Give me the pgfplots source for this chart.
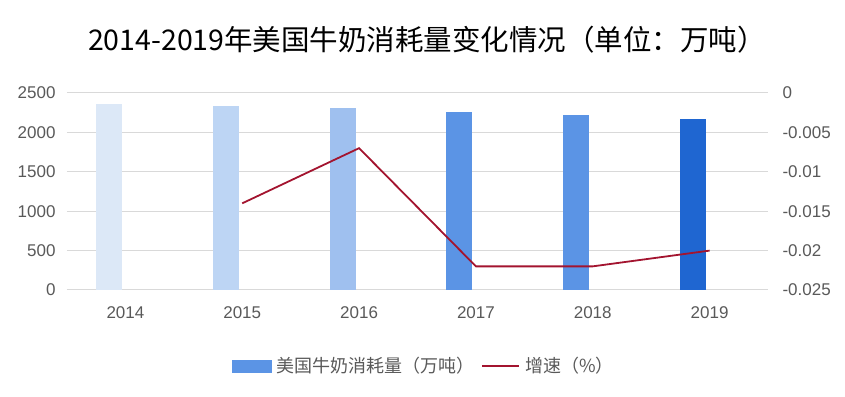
\documentclass[border=0pt]{standalone}
\usepackage{pgfplots}
\pgfplotsset{compat=1.18}
\usepackage{fontspec}
\setmainfont{Liberation Sans}
\newfontfamily\cjk{Noto Sans CJK SC}
\definecolor{c1}{HTML}{DCE8F7}
\definecolor{c2}{HTML}{BDD5F4}
\definecolor{c3}{HTML}{9FC0EF}
\definecolor{c4}{HTML}{5B94E5}
\definecolor{c5}{HTML}{5B94E5}
\definecolor{c6}{HTML}{1F66D1}
\definecolor{linered}{HTML}{A3142F}
\definecolor{gridgray}{HTML}{D9D9D9}
\definecolor{txtgray}{HTML}{595959}
\begin{document}
\begin{tikzpicture}[x=1pt,y=1pt]
\useasboundingbox (0,0) rectangle (845,396);
\node[font=\cjk\fontsize{28.5}{32}\selectfont] at (427,356) {2014-2019年美国牛奶消耗量变化情况（单位：万吨）};
\begin{axis}[at={(67pt,106pt)}, anchor=south west, width=701pt, height=197pt, scale only axis,
  xmin=-0.5, xmax=5.5, ymin=0, ymax=2500, ytick={0,500,...,2500},
  xtick={0,...,5}, xticklabels={2014,2015,2016,2017,2018,2019},
  axis line style={draw=none}, major tick style={draw=none},
  ymajorgrids, grid style={color=gridgray, line width=1pt},
  ticklabel style={font=\fontsize{17}{19}\selectfont, text=txtgray},
  /pgf/number format/assume math mode=true,
  /pgf/number format/1000 sep={},
  yticklabel style={xshift=-8pt},
  xticklabel style={yshift=-13pt},
  clip=false]
\addplot[ybar, bar width=26pt, bar shift=-16.5pt, fill=c1, draw=none] coordinates {(0,2360)};
\addplot[ybar, bar width=26pt, bar shift=-16.5pt, fill=c2, draw=none] coordinates {(1,2331)};
\addplot[ybar, bar width=26pt, bar shift=-16.5pt, fill=c3, draw=none] coordinates {(2,2314)};
\addplot[ybar, bar width=26pt, bar shift=-16.5pt, fill=c4, draw=none] coordinates {(3,2263)};
\addplot[ybar, bar width=26pt, bar shift=-16.5pt, fill=c5, draw=none] coordinates {(4,2217)};
\addplot[ybar, bar width=26pt, bar shift=-16.5pt, fill=c6, draw=none] coordinates {(5,2170)};
\end{axis}
\begin{axis}[at={(67pt,106pt)}, anchor=south west, width=701pt, height=197pt, scale only axis,
  xmin=-0.5, xmax=5.5, ymin=-0.025, ymax=0,
  axis y line*=right, axis x line=none,
  scaled y ticks=false,
  ytick={-0.025,-0.02,-0.015,-0.01,-0.005,0},
  yticklabels={-0.025,-0.02,-0.015,-0.01,-0.005,0},
  axis line style={draw=none}, major tick style={draw=none},
  ticklabel style={font=\fontsize{17}{19}\selectfont, text=txtgray},
  yticklabel style={xshift=11pt},
  clip=false,
  legend style={at={(0.511,-0.386)}, anchor=center, draw=none, fill=none,
    font=\cjk\fontsize{18}{20}\selectfont, text=txtgray, legend columns=2,
    /tikz/every even column/.append style={column sep=2pt},
    /tikz/every odd column/.append style={column sep=0pt},
    nodes={inner xsep=5pt}},
  legend cell align=left]
\addlegendimage{legend image code/.code={\fill[c5] (0pt,-6pt) rectangle (39pt,6pt);}}
\addlegendentry{美国牛奶消耗量（万吨）}
\addplot[color=linered, line width=1.8pt, legend image code/.code={\draw[linered, line width=1.8pt] (0pt,0pt) -- (37pt,0pt);}] coordinates {(1,-0.014) (2,-0.007) (3,-0.022) (4,-0.022) (5,-0.020)};
\addlegendentry{增速（\%）}
\end{axis}
\end{tikzpicture}
\end{document}
